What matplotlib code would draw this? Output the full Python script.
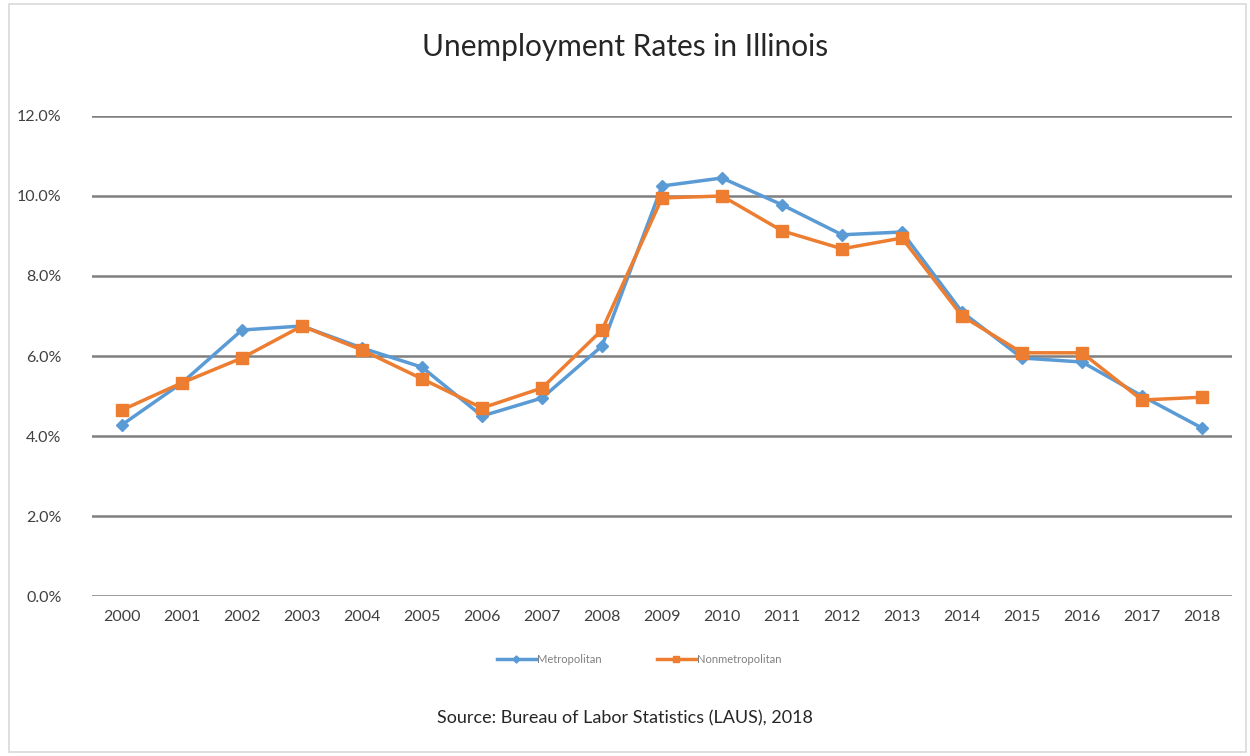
import numpy as np
import matplotlib
matplotlib.use('Agg')
import matplotlib.pyplot as plt
from matplotlib.patches import Rectangle

years = [str(y) for y in range(2000, 2019)]
metro = [4.28, 5.33, 6.65, 6.75, 6.2, 5.72, 4.5, 4.95, 6.25, 10.25, 10.45,
         9.78, 9.03, 9.1, 7.1, 5.95, 5.85, 5.0, 4.2]
nonmetro = [4.65, 5.33, 5.95, 6.75, 6.15, 5.43, 4.7, 5.2, 6.65, 9.95, 10.0,
            9.13, 8.68, 8.95, 7.0, 6.08, 6.08, 4.9, 4.97]

plt.rcParams['font.family'] = ['Lato', 'DejaVu Sans']

fig = plt.figure(figsize=(12.5, 7.56), dpi=100)
ax = fig.add_axes([0.0736, 0.2116, 0.912, 0.635])

x = np.arange(len(years))
ax.plot(x, metro, color='#5B9BD5', lw=2.5, marker='D', ms=6, label='Metropolitan', zorder=3)
ax.plot(x, nonmetro, color='#ED7D31', lw=2.5, marker='s', ms=8, label='Nonmetropolitan', zorder=4)

ax.set_xlim(-0.5, len(years) - 0.5)
ax.set_ylim(0, 12)
ax.set_yticks(np.arange(0, 12.1, 2))
ax.set_yticklabels(['%.1f%%' % v for v in np.arange(0, 12.1, 2)])
ax.set_xticks(x)
ax.set_xticklabels(years)
ax.yaxis.grid(True, color='#7f7f7f', lw=1.8)
ax.set_axisbelow(True)
for s in ax.spines.values():
    s.set_visible(False)
ax.tick_params(axis='both', length=0, labelsize=11.5, colors='#404040')
ax.tick_params(axis='y', pad=22)
ax.tick_params(axis='x', pad=10)

fig.text(0.5, 0.938, 'Unemployment Rates in Illinois', ha='center', va='center',
         fontsize=21.5, color='#262626')
ax.legend(loc='upper center', bbox_to_anchor=(0.48, -0.1), ncol=2, frameon=False,
          fontsize=8, labelcolor='#808080', handlelength=3.5, handletextpad=0.1,
          columnspacing=5, markerscale=0.6)
fig.text(0.5, 0.05, 'Source: Bureau of Labor Statistics (LAUS), 2018', ha='center',
         va='center', fontsize=13, color='#262626')

fig.patches.append(Rectangle((0.007, 0.005), 0.99, 0.99, transform=fig.transFigure,
                             fill=False, edgecolor='#d9d9d9', lw=1.2))

fig.savefig('out.png', dpi=100)
